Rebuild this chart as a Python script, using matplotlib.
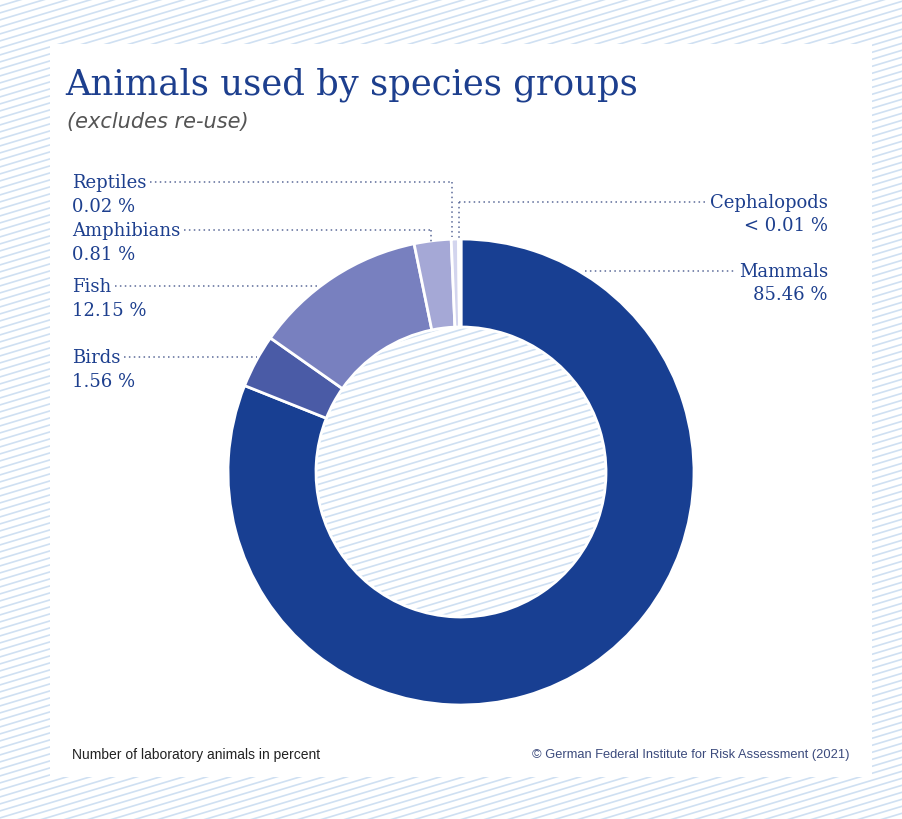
import numpy as np
import matplotlib
matplotlib.use("Agg")
import matplotlib.pyplot as plt
from matplotlib.collections import LineCollection
from matplotlib.patches import Rectangle, Circle

# ---- data (drawn shares, labels as printed) ----
categories = ["Mammals", "Birds", "Fish", "Amphibians", "Reptiles", "Cephalopods"]
shares = [80.9, 3.7, 12.0, 2.55, 0.5, 0.17]
label_values = ["85.46 %", "1.56 %", "12.15 %", "0.81 %", "0.02 %", "< 0.01 %"]
colors = ["#183f92", "#4a5ba6", "#7880bf", "#a5a8d6", "#d3d5ee", "#a9d3f2"]

W, H = 903, 820
fig = plt.figure(figsize=(W / 100, H / 100), dpi=100)
ax = fig.add_axes([0, 0, 1, 1])

def Y(y):
    return H - y

STRIPE = "#cfe0f2"
SLOPE = 0.30

def stripes(spacing=7.0, lw=1.2, zorder=0):
    segs = []
    x0, x1 = -50, W + 50
    for b in np.arange(-SLOPE * W - 50, H + 50, spacing):
        segs.append([(x0, b + SLOPE * x0), (x1, b + SLOPE * x1)])
    return LineCollection(segs, colors=STRIPE, linewidths=lw, zorder=zorder)

# background stripes and white panel
ax.add_collection(stripes(zorder=0))
ax.add_patch(Rectangle((50, Y(778)), 872 - 50, 778 - 45, facecolor="white",
                       edgecolor="none", zorder=1))

# donut
cx, cy = 461, Y(473)
R_out, R_in = 233, 145
ax.pie(shares, radius=R_out, center=(cx, cy), startangle=90, counterclock=False,
       colors=colors,
       wedgeprops=dict(width=R_out - R_in, edgecolor="white", linewidth=2))
for p in ax.patches[-len(shares):]:
    p.set_zorder(3)

# stripes inside hole
hole = Circle((cx, cy), R_in - 1, transform=ax.transData)
lc = stripes(zorder=2)
lc.set_clip_path(hole)
ax.add_collection(lc)

# titles
TXT = "#1d3f8e"
ax.text(65, Y(95), "Animals used by species groups", fontsize=25.5,
        family="DejaVu Serif", color=TXT, va="baseline", ha="left", zorder=5)
ax.text(67, Y(128), "(excludes re-use)", fontsize=15, style="italic",
        family="DejaVu Sans", color="#555555", va="baseline", ha="left", zorder=5)

# labels and leader lines
LF = 13
LINE = "#5b6a98"
dots = dict(color=LINE, linewidth=1.1, linestyle=(0, (1, 2.2)), zorder=4)

def left_label(i, y, xend, yv=None):
    name, val = categories[i], label_values[i]
    t = ax.text(72, Y(y), name, fontsize=LF, family="DejaVu Serif", color=TXT,
                va="center", ha="left", zorder=5)
    ax.text(72, Y(y + 24), val, fontsize=LF, family="DejaVu Serif", color=TXT,
            va="center", ha="left", zorder=5)
    fig.canvas.draw()
    bb = t.get_window_extent()
    xs = bb.x1 + 4
    ax.plot([xs, xend], [Y(y), Y(y)], **dots)
    if yv is not None:
        ax.plot([xend, xend], [Y(y), Y(yv)], **dots)

def right_label(i, y, xstart, xv=None, yv=None):
    name, val = categories[i], label_values[i]
    t = ax.text(828, Y(y), name, fontsize=LF, family="DejaVu Serif", color=TXT,
                va="center", ha="right", zorder=5)
    ax.text(828, Y(y + 23), val, fontsize=LF, family="DejaVu Serif", color=TXT,
            va="center", ha="right", zorder=5)
    fig.canvas.draw()
    bb = t.get_window_extent()
    xe = bb.x0 - 4
    ax.plot([xstart, xe], [Y(y), Y(y)], **dots)
    if xv is not None:
        ax.plot([xv, xv], [Y(y), Y(yv)], **dots)

ax.set_xlim(0, W)
ax.set_ylim(0, H)
ax.set_aspect("auto")
ax.set_axis_off()

left_label(4, 183, 452, 238)
left_label(3, 231, 431, 243)
left_label(2, 287, 317)
left_label(1, 358, 257)
right_label(5, 203, 459, 459, 240)
right_label(0, 272, 585)

# footer
ax.text(72, Y(755), "Number of laboratory animals in percent", fontsize=10,
        family="Liberation Sans", color="#222222", va="center", ha="left", zorder=5)
ax.text(850, Y(755), "\u00a9 German Federal Institute for Risk Assessment (2021)",
        fontsize=9.3, family="Liberation Sans", color="#3b4a7c", va="center",
        ha="right", zorder=5)

ax.set_xlim(0, W)
ax.set_ylim(0, H)
fig.savefig("out.png", dpi=100)
